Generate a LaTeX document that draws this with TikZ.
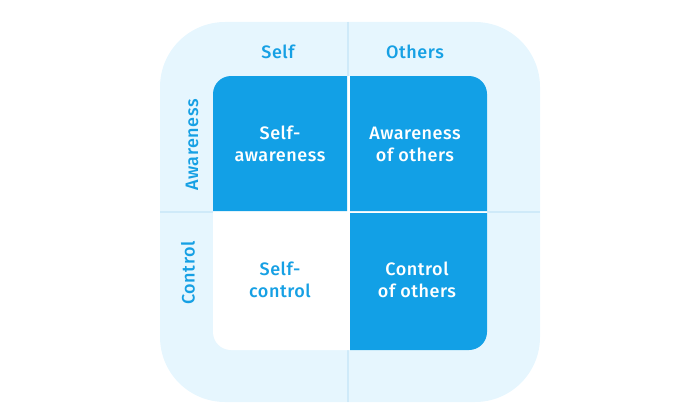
\documentclass[tikz,border=0pt]{standalone}
\usepackage{fontspec}
\setmainfont{Fira Sans}[UprightFont=* Medium,LetterSpace=3]
\definecolor{framebg}{HTML}{E6F6FE}
\definecolor{divline}{HTML}{CFEAF9}
\definecolor{cellblue}{HTML}{12A0E6}
\definecolor{textblue}{HTML}{16A0E4}
\def\outerr{65}
\def\cellr{18}

\begin{document}
\begin{tikzpicture}[x=1pt,y=-1pt,
    head/.style={text=textblue,font=\fontsize{18}{20}\selectfont},
    cell/.style={align=center,font=\fontsize{18}{22}\selectfont}]

  \useasboundingbox (0,0) rectangle (700,412);

  % Outer frame and dividers
  \fill[framebg,rounded corners=\outerr] (160,22) rectangle (540,402);
  \draw[divline,line width=1.5pt] (348,22) -- (348,402) (160,212) -- (540,212);

  % Inner area
  \fill[white,rounded corners=\cellr] (213,76) rectangle (487,350);
  \fill[cellblue] (213,211) [rounded corners=\cellr] -- (213,76) [sharp corners] -- (347,76) -- (347,211) -- cycle;
  \fill[cellblue] (350,211) -- (350,76) [rounded corners=\cellr] -- (487,76) [sharp corners] -- (487,211) -- cycle;
  \fill[cellblue] (350,213) -- (487,213) [rounded corners=\cellr] -- (487,350) [sharp corners] -- (350,350) -- cycle;

  % Headings
  \node[head] (self) at (278,52) {Self};
  \node[head] (others) at (415,52) {Others};
  \node[head,rotate=90] (aware) at (192,145) {Awareness};
  \node[head,rotate=90] (ctrl) at (188,273) {Control};

  % Cell labels
  \node[cell,text=white] (selfaw) at (280,144) {Self-\\awareness};
  \node[cell,text=white] (othaw) at (415,144) {Awareness\\of others};
  \node[cell,text=textblue] (selfctrl) at (280,280) {Self-\\control};
  \node[cell,text=white] (othctrl) at (417,280) {Control\\of others};

\end{tikzpicture}
\end{document}
